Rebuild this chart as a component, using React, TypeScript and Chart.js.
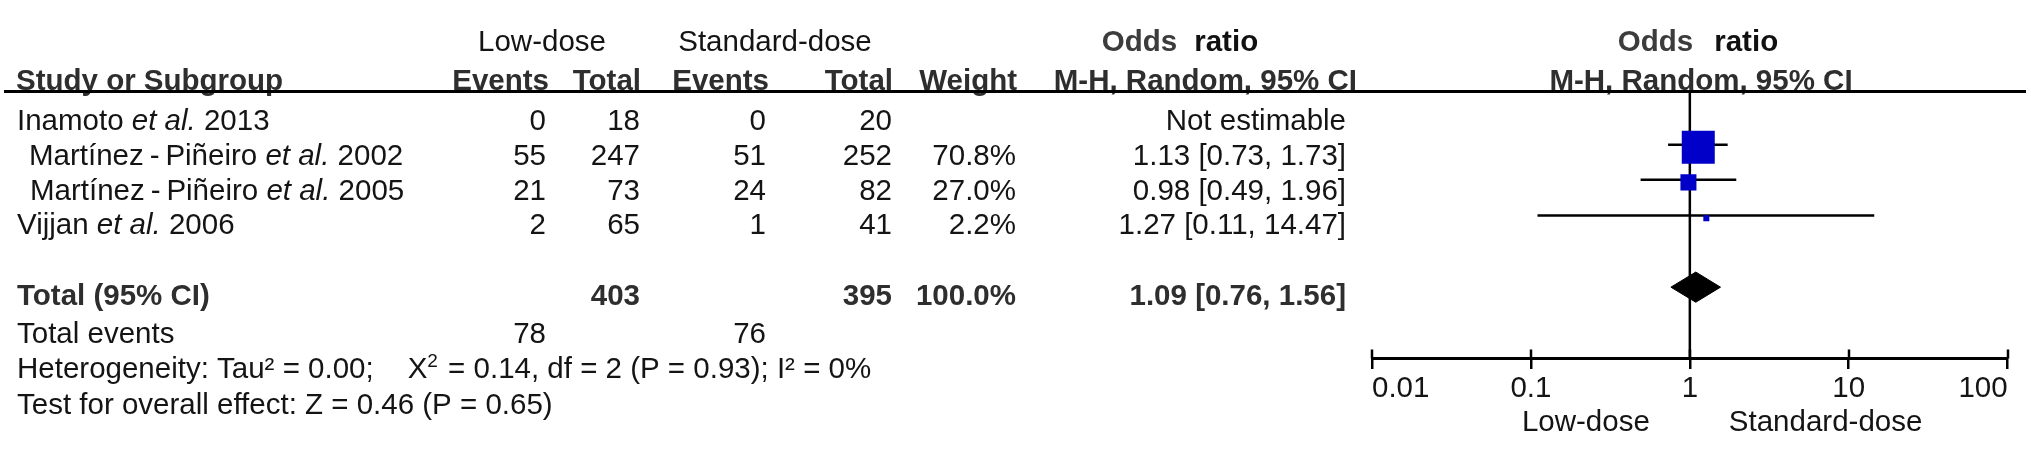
import React, { useEffect, useRef } from 'react';
import { Chart, registerables } from 'chart.js';

Chart.register(...registerables);

// ---------------- data ----------------
const authors = ['Inamoto', 'Martínez\u2009-\u2009Piñeiro', 'Martínez\u2009-\u2009Piñeiro', 'Vijjan'];
const years = ['2013', '2002', '2005', '2006'];
const lowEvents = [0, 55, 21, 2];
const lowTotal = [18, 247, 73, 65];
const stdEvents = [0, 51, 24, 1];
const stdTotal = [20, 252, 82, 41];
const weights: (number | null)[] = [null, 70.8, 27.0, 2.2];
const oddsRatio: (number | null)[] = [null, 1.13, 0.98, 1.27];
const ciLow: (number | null)[] = [null, 0.73, 0.49, 0.11];
const ciHigh: (number | null)[] = [null, 1.73, 1.96, 14.47];
const pooledOR = 1.09;
const pooledLow = 0.76;
const pooledHigh = 1.56;
const totalLow = 403;
const totalStd = 395;
const totalWeight = 100.0;
const eventsLow = 78;
const eventsStd = 76;
const tickValues = [0.01, 0.1, 1, 10, 100];
const tickLabels = ['0.01', '0.1', '1', '10', '100'];
const hetTau2 = '0.00';
const hetChi2 = '0.14';
const hetDf = 2;
const hetP = '0.93';
const hetI2 = '0%';
const effectZ = '0.46';
const effectP = '0.65';

// ---------------- layout ----------------
const W = 2031;
const H = 460;
const FONT = '"Liberation Sans", Arial, Helvetica, sans-serif';
const FS = 29.5;
const ROWS = 11.5; // 40px per row unit
const X_LEFT = 1372;
const X_RIGHT = 2018;
const R_HDR1 = 0.47;
const R_HDR2 = 1.55;
const R_HLINE = 1.9;
const R_STUDY = [2.68, 3.65, 4.62, 5.57];
const R_CI = [2.4, 3.375, 4.35, 5.35];
const SQ_OFF = 0.075;
const R_TOTAL = 7.55;
const R_DIAMOND = 7.34;
const DIAMOND_HALF = 0.42;
const R_EVENTS = 8.6;
const R_HET = 9.58;
const R_TEST = 10.57;
const R_AXIS = 9.325;
const R_DIR = 11.06;
const NAME_X = [17, 29, 30, 17];
const COL_LOW_EV = 546;
const COL_LOW_TOT = 640;
const COL_STD_EV = 766;
const COL_STD_TOT = 892;
const COL_WEIGHT = 1016;
const COL_OR = 1346;
const TEXT = '#141414';
const HEAD = '#2e2e2e';
const BLUE = '#0000c8';

type Run = { t: string; bold?: boolean; italic?: boolean; size?: number; dy?: number; color?: string; gap?: number };

function fontOf(r: Run) {
  return `${r.italic ? 'italic ' : ''}${r.bold ? 'bold ' : ''}${r.size ?? FS}px ${FONT}`;
}

function drawRuns(ctx: CanvasRenderingContext2D, runs: Run[], x: number, yc: number, align: 'left' | 'right' | 'center', color = TEXT) {
  const widths = runs.map((r) => {
    ctx.font = fontOf(r);
    return ctx.measureText(r.t).width + (r.gap ?? 0);
  });
  const total = widths.reduce((a, b) => a + b, 0);
  let cx = align === 'left' ? x : align === 'right' ? x - total : x - total / 2;
  const base = yc + FS * 0.36;
  ctx.textAlign = 'left';
  ctx.textBaseline = 'alphabetic';
  runs.forEach((r, i) => {
    ctx.font = fontOf(r);
    ctx.fillStyle = r.color ?? color;
    ctx.fillText(r.t, cx, base + (r.dy ?? 0));
    cx += widths[i];
  });
}

const fmt2 = (v: number) => v.toFixed(2);

const tablePlugin = {
  id: 'forestTable',
  afterDraw(chart: any) {
    const ctx: CanvasRenderingContext2D = chart.ctx;
    const ys = chart.scales.y;
    const xs = chart.scales.x;
    const py = (r: number) => ys.getPixelForValue(r);
    ctx.save();

    // header row 1
    drawRuns(ctx, [{ t: 'Low-dose' }], 542, py(R_HDR1), 'center');
    drawRuns(ctx, [{ t: 'Standard-dose' }], 775, py(R_HDR1), 'center');
    drawRuns(ctx, [{ t: 'Odds', bold: true, color: '#3c3c3c', gap: 17 }, { t: 'ratio', bold: true, color: '#111' }], 1180, py(R_HDR1), 'center');
    drawRuns(ctx, [{ t: 'Odds', bold: true, color: '#3c3c3c', gap: 21 }, { t: 'ratio', bold: true, color: '#111' }], 1698, py(R_HDR1), 'center');

    // header row 2
    const h2 = py(R_HDR2);
    drawRuns(ctx, [{ t: 'Study or Subgroup', bold: true }], 16, h2, 'left', HEAD);
    drawRuns(ctx, [{ t: 'Events', bold: true }], 549, h2, 'right', HEAD);
    drawRuns(ctx, [{ t: 'Total', bold: true }], 641, h2, 'right', HEAD);
    drawRuns(ctx, [{ t: 'Events', bold: true }], 769, h2, 'right', HEAD);
    drawRuns(ctx, [{ t: 'Total', bold: true }], 893, h2, 'right', HEAD);
    drawRuns(ctx, [{ t: 'Weight', bold: true }], 1017, h2, 'right', HEAD);
    drawRuns(ctx, [{ t: 'M-H, Random, 95% CI', bold: true }], 1357, h2, 'right', HEAD);
    drawRuns(ctx, [{ t: 'M-H, Random, 95% CI', bold: true }], 1701, h2, 'center', HEAD);

    // header line
    ctx.strokeStyle = '#000';
    ctx.lineWidth = 3;
    ctx.beginPath();
    ctx.moveTo(4, py(R_HLINE));
    ctx.lineTo(2026, py(R_HLINE));
    ctx.stroke();

    // study rows
    authors.forEach((a, i) => {
      const y = py(R_STUDY[i]);
      drawRuns(ctx, [{ t: a + ' ' }, { t: 'et al.', italic: true }, { t: ' ' + years[i] }], NAME_X[i], y, 'left');
      drawRuns(ctx, [{ t: String(lowEvents[i]) }], COL_LOW_EV, y, 'right');
      drawRuns(ctx, [{ t: String(lowTotal[i]) }], COL_LOW_TOT, y, 'right');
      drawRuns(ctx, [{ t: String(stdEvents[i]) }], COL_STD_EV, y, 'right');
      drawRuns(ctx, [{ t: String(stdTotal[i]) }], COL_STD_TOT, y, 'right');
      const w = weights[i];
      if (w != null) drawRuns(ctx, [{ t: w.toFixed(1) + '%' }], COL_WEIGHT, y, 'right');
      const o = oddsRatio[i];
      const lo = ciLow[i];
      const hi = ciHigh[i];
      const txt = o != null && lo != null && hi != null ? `${fmt2(o)} [${fmt2(lo)}, ${fmt2(hi)}]` : 'Not estimable';
      drawRuns(ctx, [{ t: txt }], COL_OR, y, 'right');
    });

    // total row
    const yt = py(R_TOTAL);
    drawRuns(ctx, [{ t: 'Total (95% CI)', bold: true }], 17, yt, 'left', HEAD);
    drawRuns(ctx, [{ t: String(totalLow), bold: true }], COL_LOW_TOT, yt, 'right', HEAD);
    drawRuns(ctx, [{ t: String(totalStd), bold: true }], COL_STD_TOT, yt, 'right', HEAD);
    drawRuns(ctx, [{ t: totalWeight.toFixed(1) + '%', bold: true }], COL_WEIGHT, yt, 'right', HEAD);
    drawRuns(ctx, [{ t: `${fmt2(pooledOR)} [${fmt2(pooledLow)}, ${fmt2(pooledHigh)}]`, bold: true }], COL_OR, yt, 'right', HEAD);

    const ye = py(R_EVENTS);
    drawRuns(ctx, [{ t: 'Total events' }], 17, ye, 'left');
    drawRuns(ctx, [{ t: String(eventsLow) }], COL_LOW_EV, ye, 'right');
    drawRuns(ctx, [{ t: String(eventsStd) }], COL_STD_EV, ye, 'right');

    drawRuns(
      ctx,
      [
        { t: `Heterogeneity: Tau² = ${hetTau2};`, gap: 34 },
        { t: 'X' },
        { t: '2', size: 19, dy: -11, gap: 2 },
        { t: ` = ${hetChi2}, df = ${hetDf} (P = ${hetP}); I² = ${hetI2}` },
      ],
      17,
      py(R_HET),
      'left'
    );
    drawRuns(ctx, [{ t: `Test for overall effect: Z = ${effectZ} (P = ${effectP})` }], 17, py(R_TEST), 'left');

    // direction labels
    const x1 = xs.getPixelForValue(1);
    drawRuns(ctx, [{ t: 'Low-dose' }], x1 - 40, py(R_DIR), 'right');
    drawRuns(ctx, [{ t: 'Standard-dose' }], x1 + 39, py(R_DIR), 'left');

    // upper halves of axis ticks
    const ay = py(R_AXIS);
    ctx.strokeStyle = '#000';
    ctx.lineWidth = 2.5;
    xs.ticks.forEach((t: any) => {
      const px = Math.round(xs.getPixelForValue(t.value));
      ctx.beginPath();
      ctx.moveTo(px, ay - 9);
      ctx.lineTo(px, ay);
      ctx.stroke();
    });

    ctx.restore();
  },
};

export default function App() {
  const ref = useRef<HTMLCanvasElement | null>(null);

  useEffect(() => {
    document.body.style.margin = '0';
    const canvas = ref.current;
    if (!canvas) return;

    const squares: any[] = [];
    const squareSides: number[] = [];
    const ciSets: any[] = [];
    oddsRatio.forEach((o, i) => {
      const lo = ciLow[i];
      const hi = ciHigh[i];
      const w = weights[i];
      if (o == null || lo == null || hi == null || w == null) return;
      const y = R_CI[i];
      squares.push({ x: o, y: y + SQ_OFF });
      squareSides.push(Math.max(6, 33 * Math.pow(w / 70.8, 0.75)));
      ciSets.push({
        data: [
          { x: lo, y },
          { x: hi, y },
        ],
        showLine: true,
        borderColor: '#000',
        borderWidth: 2.5,
        pointRadius: 0,
      });
    });

    const chart = new Chart(canvas, {
      type: 'scatter',
      data: {
        datasets: [
          {
            data: squares,
            pointStyle: 'rect',
            pointRadius: (c: any) => (squareSides[c.dataIndex] ?? 6) / Math.SQRT2,
            backgroundColor: BLUE,
            borderColor: BLUE,
            borderWidth: 0,
          },
          {
            data: [
              { x: pooledLow, y: R_DIAMOND },
              { x: pooledOR, y: R_DIAMOND - DIAMOND_HALF },
              { x: pooledHigh, y: R_DIAMOND },
              { x: pooledOR, y: R_DIAMOND + DIAMOND_HALF },
              { x: pooledLow, y: R_DIAMOND },
            ],
            showLine: true,
            fill: 'shape',
            backgroundColor: '#000',
            borderColor: '#000',
            borderWidth: 1,
            pointRadius: 0,
            tension: 0,
          },
          ...ciSets,
          {
            data: [
              { x: 1, y: R_HLINE },
              { x: 1, y: R_AXIS },
            ],
            showLine: true,
            borderColor: '#000',
            borderWidth: 2.5,
            pointRadius: 0,
          },
        ],
      },
      options: {
        animation: false,
        responsive: false,
        maintainAspectRatio: false,
        events: [],
        layout: { padding: { left: X_LEFT, right: W - X_RIGHT, top: 0, bottom: 0 } },
        plugins: { legend: { display: false }, tooltip: { enabled: false } },
        scales: {
          x: {
            type: 'logarithmic',
            min: 0.01,
            max: 100,
            position: { y: R_AXIS } as any,
            afterBuildTicks: (s: any) => {
              s.ticks = tickValues.map((v) => ({ value: v }));
            },
            ticks: {
              autoSkip: false,
              maxRotation: 0,
              align: 'inner',
              padding: 4,
              color: TEXT,
              font: { family: FONT, size: FS },
              callback: (_v: any, i: number) => tickLabels[i],
            },
            grid: { drawOnChartArea: false, drawTicks: true, tickLength: 9, color: '#000', lineWidth: 2.5 },
            border: { display: true, color: '#000', width: 3 },
          },
          y: { type: 'linear', min: 0, max: ROWS, reverse: true, display: false },
        },
      } as any,
      plugins: [tablePlugin],
    });
    return () => chart.destroy();
  }, []);

  return <canvas ref={ref} width={W} height={H} style={{ display: 'block' }} />;
}
